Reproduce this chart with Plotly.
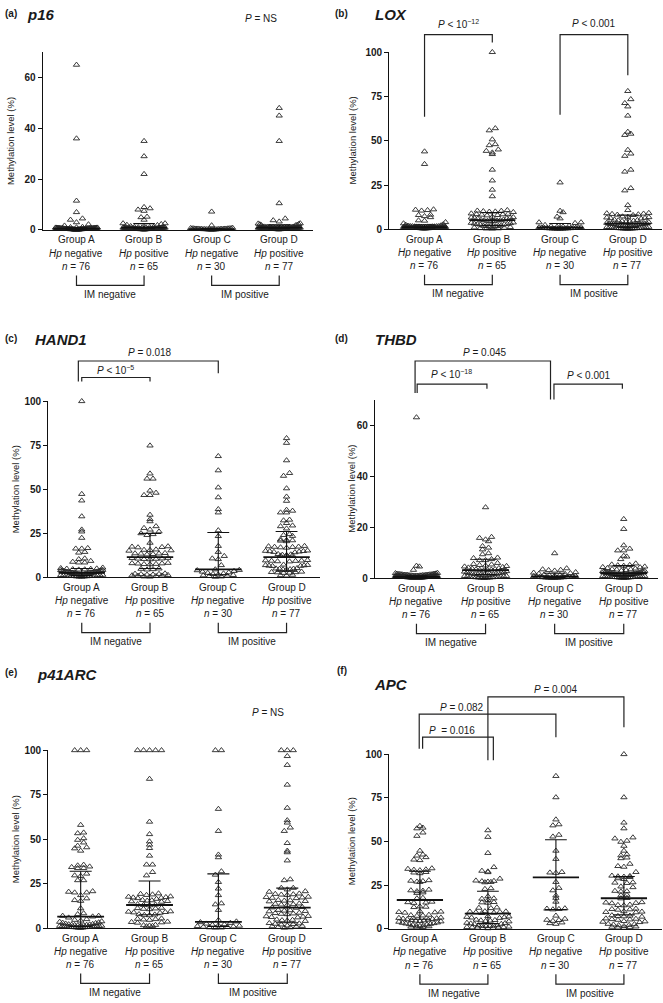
import numpy as np
import plotly.graph_objects as go

W, H = 663, 1003
FONT = "Liberation Sans, Arial, sans-serif"
INK = "#1a1a1a"

groups = ["Group A", "Group B", "Group C", "Group D"]
hp_labels = ["<i>Hp</i> negative", "<i>Hp</i> positive", "<i>Hp</i> negative", "<i>Hp</i> positive"]
n_labels = ["<i>n</i> = 76", "<i>n</i> = 65", "<i>n</i> = 30", "<i>n</i> = 77"]
im_labels = ["IM negative", "IM positive"]
y_title = "Methylation level (%)"

# ---------------- data (methylation level, %) ----------------
p16_A = [65, 36, 11.5, 7.0, 4.5, 4.0, 3.0, 2.2, 1.7,
         0.2, 0.5, 0.3, 0.8, 0.6, 0.4, 0.1, 0.7, 0.9, 0.5,
         0.3, 0.6, 0.2, 0.8, 0.4, 0.5, 1.0, 0.3, 0.7, 0.6,
         0.1, 0.4, 0.9, 0.5, 0.2, 0.8, 0.6, 0.3, 0.5, 0.7,
         0.4, 0.2, 0.6, 0.8, 0.3, 0.5, 0.1, 0.9, 0.4, 0.6,
         0.7, 0.3, 0.5, 0.2, 0.8, 0.6, 0.4, 1.1, 0.5, 0.3,
         0.6, 0.2, 0.7, 0.4, 0.9, 0.5, 0.3, 0.8, 0.6, 0.4,
         0.2, 0.5, 0.7, 1.2, 0.3, 0.6, 0.4]
p16_B = [35, 29, 22, 9.0, 8.5, 8.0, 7.5, 5.2, 5.0, 4.0, 2.6, 2.6, 2.3, 2.0, 1.9, 1.5,
         0.3, 0.6, 0.9, 0.4, 0.7, 1.0, 0.5, 0.8, 0.2, 0.6,
         1.1, 0.4, 0.7, 0.3, 0.9, 0.5, 0.8, 0.6, 1.2, 0.4,
         0.7, 0.2, 0.5, 1.0, 0.6, 0.3, 0.9, 0.8, 0.4, 0.7,
         0.5, 1.1, 0.6, 0.3, 0.8, 0.4, 0.9, 0.5, 0.7, 0.2,
         0.6, 1.0, 0.4, 0.8, 0.5, 0.3, 0.7, 0.6, 0.9]
p16_C = [7.2, 1.8, 0.6, 0.3, 0.5, 0.2, 0.4, 0.7, 0.3, 0.5, 0.1, 0.4,
         0.6, 0.2, 0.5, 0.3, 0.8, 0.4, 0.2, 0.5, 0.3, 0.6,
         0.4, 0.1, 0.5, 0.3, 0.7, 0.2, 0.4, 0.6]
p16_D = [48, 45, 35, 10.5, 4.5, 3.8, 3.3, 2.6, 2.5, 2.3, 2.2, 2.0, 1.9, 1.8,
         0.5, 0.8, 1.2, 0.4, 0.9, 1.1, 0.6, 1.3, 0.7, 1.0,
         0.3, 0.8, 1.2, 0.5, 0.9, 0.6, 1.1, 0.4, 1.0, 0.7,
         1.3, 0.5, 0.8, 0.2, 1.1, 0.6, 0.9, 1.2, 0.4, 0.7,
         1.0, 0.3, 0.8, 1.1, 0.5, 0.9, 0.6, 1.2, 0.4, 0.7,
         1.0, 0.8, 0.5, 1.3, 0.6, 0.9, 0.3, 1.1, 0.7, 1.0,
         0.4, 0.8, 1.2, 0.6, 0.9, 0.5, 1.1, 0.7, 1.0, 0.3,
         0.8, 1.2, 0.6]

lox_A = [43.9, 36.8, 11.2, 11.0, 10.8, 10.5, 8.2, 8.0, 7.4, 6.8, 5.0, 4.8, 4.0, 3.3, 2.8, 2.5, 2.2, 2.0,
         0.5, 1.2, 0.8, 1.5, 0.6, 1.0, 1.8, 0.7, 1.3, 0.9,
         1.6, 0.5, 1.1, 0.8, 1.4, 0.6, 1.2, 1.7, 0.9, 1.0,
         0.7, 1.5, 0.5, 1.3, 0.8, 1.1, 1.6, 0.6, 1.2, 0.9,
         1.4, 0.7, 1.0, 1.8, 0.5, 1.3, 0.8, 1.1, 1.5, 0.6,
         1.2, 0.9, 1.6, 0.7, 1.0, 1.4, 0.5, 1.3, 0.8, 1.1,
         1.7, 0.6, 1.2, 0.9, 1.5, 0.7, 1.0, 1.3]
lox_B = [100, 57, 55.8, 50.7, 48, 47.4, 45, 44.2, 43.3, 42.4, 33.6, 27.5, 22.3, 18.6,
         10.8, 10.5, 10.4, 10.2, 10.0, 9.9, 9.7, 8.9, 8.7, 8.5, 8.4, 8.2, 8.0, 7.8,
         7.0, 6.8, 6.6, 6.5, 6.3, 6.2, 6.0, 5.5, 5.3, 5.1, 5.0, 4.9, 4.7, 4.5, 4.3,
         3.8, 3.6, 3.4, 3.2, 3.0, 2.9, 2.8, 2.6, 2.2, 2.0, 1.9, 1.8, 1.6, 1.5, 1.4, 1.2,
         1.0, 0.8, 0.6, 0.5, 0.4, 0.3]
lox_C = [26.4, 10.4, 9.6, 7.1, 6.1, 3.9, 3.9, 3.5, 2.4, 2.0, 1.8, 1.5, 1.4, 1.2, 1.1,
         1.0, 0.9, 0.8, 0.8, 0.7, 0.6, 0.6, 0.5, 0.5, 0.4, 0.4, 0.3, 0.3, 0.2, 0.2]
lox_D = [78, 73.4, 71.2, 69.3, 64.1, 55, 53.9, 53.2, 44.8, 42.7, 41.4, 33.6, 32.5, 23.2, 21.9, 13.6,
         10.8, 9.2, 9.0, 8.8, 8.6, 8.4, 8.2, 8.0, 7.2, 7.0, 6.8, 6.6, 6.4, 6.2, 6.0,
         5.4, 5.2, 5.0, 4.8, 4.6, 4.4, 4.2, 4.0, 3.6, 3.4, 3.3, 3.2, 3.1, 3.0, 2.9, 2.8, 2.7, 2.6,
         2.2, 2.1, 2.0, 1.9, 1.8, 1.7, 1.6, 1.5, 1.4, 1.3, 1.2, 1.1,
         1.0, 0.9, 0.9, 0.8, 0.8, 0.7, 0.7, 0.6, 0.6, 0.5, 0.5, 0.4, 0.4, 0.3, 0.3, 0.2]

hand1_A = [100, 47.3, 43.6, 34.6, 27.1, 26, 22.4, 16.6, 16.3, 16.3, 14.4, 14, 10.7, 10.3, 9.3, 8.8, 8.4, 8.4,
           0.5, 1.2, 2.0, 3.1, 4.2, 0.8, 1.6, 2.5, 3.6, 4.8,
           0.4, 1.0, 1.9, 2.8, 3.9, 5.2, 0.7, 1.4, 2.2, 3.3,
           4.5, 0.6, 1.1, 1.8, 2.6, 3.5, 4.4, 5.5, 0.9, 1.5,
           2.3, 3.0, 4.0, 0.3, 1.3, 2.1, 2.9, 3.8, 4.9, 0.8,
           1.7, 2.4, 3.2, 4.1, 5.0, 0.5, 1.2, 2.0, 2.7, 3.4,
           4.6, 1.0, 1.6, 2.2, 3.1, 0.7, 1.9, 2.5]
hand1_B = [74.8, 58.9, 56, 56, 49.2, 48, 46.7, 46.7, 35.5, 33, 31.8, 29, 28, 27.1, 26, 25, 24.5, 24,
           19.6, 17.6, 17.4, 17.2, 17.0, 15.8, 15.6, 15.5, 15.3, 15.1,
           13.8, 13.6, 13.5, 13.4, 13.2, 13.0, 11.0, 10.9, 10.7, 10.6, 10.5, 10.4, 10.2,
           8.2, 8.0, 7.9, 7.8, 7.6, 7.5, 7.4, 5.0, 4.8, 4.6, 4.4,
           2.2, 2.0, 1.9, 1.8, 1.6, 1.5, 1.3, 1.1, 1.0, 0.9, 0.7, 0.5, 0.4]
hand1_C = [68.8, 60.7, 51, 45.4, 38.7, 36.8, 26.7, 23.4, 17.8, 14.4, 12.1, 10.7, 10.3, 6.9,
           4.5, 4.2, 4.0, 3.6, 3.2, 2.8, 2.5, 2.2, 1.9, 1.6, 1.3, 1.1, 0.9, 0.7, 0.5, 0.3]
hand1_D = [79, 76.3, 66.4, 59.2, 57.6, 50.5, 45.8, 43.4, 38.3, 37.8, 36.8, 36.8, 32.7, 32.3, 30.8, 29.4, 29, 27.7,
           24.5, 24, 23.5, 21.5, 21.2, 21, 20.8, 20.5,
           17.8, 17.6, 17.4, 17.3, 17.2, 17.0, 16.8, 15.2, 15.0, 14.9, 14.8, 14.6, 14.4, 14.2,
           13.2, 13.0, 12.8, 12.7, 12.5, 12.3, 12.1, 9.8, 9.6, 9.5, 9.4, 9.3, 9.1, 9.0,
           7.2, 7.0, 6.9, 6.8, 6.6, 6.5, 6.4, 5.2, 5.0, 4.9, 4.8, 4.6, 4.5, 4.4,
           3.2, 3.0, 2.9, 2.8, 2.6, 2.5, 1.4, 1.2, 1.0]

thbd_A = [63, 4.9, 4.6, 3.3,
          0.2, 0.5, 0.9, 1.3, 1.7, 0.3, 0.6, 1.0, 1.4, 1.8,
          0.1, 0.4, 0.8, 1.2, 1.6, 2.0, 0.3, 0.7, 1.1, 1.5,
          0.2, 0.6, 0.9, 1.3, 1.9, 0.4, 0.8, 1.0, 1.4, 0.5,
          0.2, 0.7, 1.1, 1.6, 0.3, 0.6, 0.9, 1.2, 1.7, 0.4,
          0.8, 1.0, 1.5, 0.1, 0.5, 0.9, 1.3, 1.8, 0.3, 0.6,
          1.1, 1.4, 0.2, 0.7, 1.0, 1.6, 0.4, 0.8, 1.2, 2.1,
          0.5, 0.9, 1.3, 0.3, 0.7, 1.1, 1.5, 0.2, 0.6, 1.0,
          0.4, 0.8]
thbd_B = [27.8, 16.2, 15.8, 15.2, 14.5, 12.6, 12.0, 11.3, 9.8, 9.4, 8.1, 7.9, 7.5, 7.1, 7.1,
          6.0, 5.6, 5.4, 5.2, 5.0, 4.8, 4.6, 4.4, 4.2, 4.0,
          3.8, 3.6, 3.5, 3.4, 3.3, 3.2, 3.0, 2.8, 2.6, 2.5,
          2.4, 2.2, 2.1, 2.0, 1.9, 1.8, 1.7, 1.6, 1.5, 1.4,
          1.3, 1.2, 1.1, 1.0, 0.9, 0.9, 0.8, 0.8, 0.7, 0.6,
          0.6, 0.5, 0.5, 0.4, 0.4, 0.3, 0.3, 0.2, 0.2, 0.1]
thbd_C = [9.8, 3.9, 3.5, 3.3, 3.2, 3.0, 2.4, 2.2, 2.0, 1.8, 1.7, 1.5, 1.3, 1.2, 1.0,
          0.9, 0.8, 0.8, 0.7, 0.6, 0.5, 0.5, 0.4, 0.4, 0.3, 0.3, 0.2, 0.2, 0.1, 0.1]
thbd_D = [23.2, 19.3, 12.9, 11.6, 10.9, 10.9, 8.8, 8.5, 7.5,
          5.8, 5.4, 5.2, 4.9, 4.6, 4.3, 4.0, 3.8, 3.6, 3.4,
          3.2, 3.0, 2.9, 2.8, 2.7, 2.6, 2.5, 2.4, 2.3, 2.2,
          2.1, 2.0, 2.0, 1.9, 1.9, 1.8, 1.8, 1.7, 1.7, 1.6,
          1.6, 1.5, 1.5, 1.4, 1.4, 1.3, 1.3, 1.2, 1.2, 1.1,
          1.1, 1.0, 1.0, 0.9, 0.9, 0.8, 0.8, 0.7, 0.7, 0.6,
          0.6, 0.5, 0.5, 0.4, 0.4, 0.3, 0.3, 0.2, 0.2, 0.1,
          5.1, 4.4, 3.5, 2.7, 1.9, 1.2, 0.8, 0.5]

p41_A = [100, 100, 100, 58, 53.7, 53.3, 50.5, 49.6, 48.1, 46.3, 45.4, 44.8, 43.5,
         35.6, 35.2, 34.6, 34.3, 33.7, 33.7, 30.6, 29.6, 29.3, 26.9, 26.9, 20.7, 20.4, 20.0, 20.0,
         18.5, 16.7, 15.7, 15.3, 11.1, 8.3, 7.8, 6.9, 6.9, 6.5, 5.9,
         5.0, 4.6, 4.2, 3.8, 3.5, 3.2, 3.0, 2.8, 2.5, 2.3, 2.1, 2.0, 1.9, 1.8, 1.7,
         1.6, 1.5, 1.4, 1.3, 1.2, 1.1, 1.0, 1.0, 0.9, 0.9, 0.8, 0.8, 0.7, 0.7, 0.6,
         0.6, 0.5, 0.5, 0.4, 0.3, 0.2, 0.1]
p41_B = [100, 100, 100, 100, 100, 83.9, 59.8, 52.8, 48.7, 46.9, 45, 40.7, 35.7, 35.7, 31.5, 29.6,
         19.5, 19.2, 18.9, 18.6, 17.8, 17.6, 17.4, 17.2, 17.0, 16.8, 16.4,
         15.8, 15.6, 15.4, 15.2, 15.0, 14.8, 13.4, 13.2, 13.0, 12.8,
         11.4, 11.2, 11.0, 10.8, 10.6, 9.4, 9.2, 9.0, 8.8, 8.6, 7.8, 7.6, 7.4, 7.2,
         5.4, 5.2, 5.0, 4.8, 4.6, 3.6, 3.4, 3.2, 3.0, 1.8, 1.6, 1.4, 1.2, 1.0]
p41_C = [100, 100, 67, 54.6, 41.3, 39.8, 31.9, 30, 25.9, 22.2, 18.5, 13.9, 13.3, 10.2,
         4.5, 3.7, 3.3, 2.9, 2.5, 2.1, 1.8, 1.5, 1.3, 1.1, 0.9, 0.7, 0.6, 0.4, 0.3, 0.2]
p41_D = [100, 100, 100, 96.7, 91.7, 80.6, 67.6, 60.6, 59.3, 56.5, 54.6, 47.8, 43.5, 42.6, 38,
         27.4, 26.9, 22.6, 22.6, 21.7, 20.7, 20.4,
         19.4, 19.2, 19.0, 18.8, 18.6, 17.6, 17.4, 17.2, 17.0, 16.8,
         15.8, 15.6, 15.4, 15.2, 15.0, 13.8, 13.6, 13.4, 13.2, 13.0,
         11.8, 11.6, 11.4, 10.2, 10.0, 9.8, 9.6, 9.4, 8.6, 8.4, 8.2, 8.0, 7.8,
         6.8, 6.6, 6.4, 6.2, 6.0, 4.8, 4.6, 4.4, 4.2, 4.0,
         2.8, 2.6, 2.4, 2.2, 2.0, 1.4, 1.2, 1.0, 0.8, 0.6, 0.4, 0.2]

apc_A = [58.9, 57.9, 57.5, 55.1, 53.2, 44.7, 42.5, 41.9, 41.0, 39.6,
         39.3, 34.6, 34.3, 34.0, 33.8, 33.5, 32.5, 32.2, 31.8, 27.8,
         27.5, 27.3, 27.0, 26.8, 22.4, 22.0, 21.8, 21.5, 20.8, 20.5,
         17.7, 17.4, 15.5, 15.2, 15.0, 14.8, 12.8, 12.6, 12.4, 10.0,
         9.8, 9.6, 9.4, 9.2, 8.0, 7.8, 7.6, 7.4, 6.4, 6.2,
         6.0, 5.8, 5.6, 5.4, 5.2, 5.0, 4.8, 4.6, 4.4, 4.2,
         4.0, 3.6, 3.4, 3.2, 3.0, 2.8, 2.6, 2.4, 2.2, 2.0,
         1.8, 1.6, 1.4, 1.2, 1.0, 0.8]
apc_B = [56.4, 52.6, 43.4, 35.3, 33.2, 32.8, 32.4, 28.7, 27.6, 27.4,
         27.2, 27.0, 26.8, 26.6, 23.2, 22.8, 18.6, 17.4, 17.2, 16.4,
         15.3, 15.1, 14.9, 12.2, 12.0, 11.8, 10.0, 9.9, 9.8, 9.6,
         9.4, 9.2, 9.0, 7.2, 7.0, 6.8, 6.6, 6.4, 6.2, 5.2,
         5.0, 4.8, 4.6, 4.4, 4.2, 3.4, 3.2, 3.0, 2.8, 2.6,
         2.0, 1.9, 1.8, 1.7, 1.6, 1.5, 1.2, 1.0, 0.9, 0.8,
         0.7, 0.6, 0.5, 0.4, 0.3]
apc_C = [87.5, 75.3, 62.6, 59.8, 59.2, 53.8, 52.8, 44.7, 40.0, 32.5,
         32.2, 32.0, 26.8, 23.4, 22.0, 19.0, 17.7, 15.5, 11.7, 11.5,
         11.3, 11.1, 7.5, 5.7, 5.1, 5.0, 4.5, 3.6, 3.2, 2.8]
apc_D = [100, 75.3, 60.8, 57.5, 52.3, 51.7, 50.4, 49.8, 47.5, 44.7,
         42.6, 42.0, 40.8, 40.4, 37.2, 35.9, 35.5, 32.5, 30.4, 30.2,
         30.0, 29.8, 29.6, 28.9, 28.5, 26.6, 26.4, 26.2, 24.2, 23.8,
         21.7, 21.5, 21.3, 19.4, 19.2, 17.6, 17.4, 15.2, 15.0, 14.8,
         14.6, 13.8, 13.6, 13.4, 11.5, 11.3, 11.1, 10.9, 10.0, 9.8,
         9.6, 9.4, 7.7, 7.5, 7.3, 7.1, 6.9, 5.9, 5.7, 5.5,
         5.3, 5.1, 4.4, 4.2, 4.0, 3.8, 2.8, 2.6, 2.4, 2.2,
         2.0, 1.5, 1.3, 1.1, 0.9, 0.7, 0.5]

# medians and interquartile ranges
p16_med, p16_q1, p16_q3 = [0.5, 0.9, 0.3, 0.9], [0.2, 0.5, 0.2, 0.5], [0.9, 2.5, 0.6, 2.0]
lox_med, lox_q1, lox_q3 = [1.2, 5.2, 1.0, 3.2], [0.7, 2.2, 0.5, 1.2], [2.5, 9.5, 3.3, 8.0]
hand1_med, hand1_q1, hand1_q3 = [2.5, 11.5, 4.5, 11.5], [1.0, 5.0, 1.5, 3.5], [5.0, 25.0, 25.5, 26.0]
thbd_med, thbd_q1, thbd_q3 = [0.6, 3.2, 0.8, 2.0], [0.3, 1.5, 0.3, 1.0], [1.0, 7.5, 2.0, 5.0]
p41_med, p41_q1, p41_q3 = [6.5, 13.0, 3.5, 11.5], [1.0, 7.5, 1.0, 3.0], [32.0, 26.5, 30.5, 22.5]
apc_med, apc_q1, apc_q3 = [16.5, 8.7, 29.5, 17.5], [5.5, 3.0, 11.0, 8.0], [33.0, 21.5, 51.0, 30.0]

# ---------------- layout of the six panels (pixel geometry) ----------------
panels = [
    dict(letter="(a)", gene="p16", vals=[p16_A, p16_B, p16_C, p16_D], med=p16_med, q1=p16_q1, q3=p16_q3,
         px=(42.7, 313), py=(46.7, 226.7), xr=(0.5, 4.5), yr=(0, 70), ticks=[0, 20, 40, 60],
         let_xy=(3, 8), gene_xy=(25, 8.5), ytitle_x=10),
    dict(letter="(b)", gene="LOX", vals=[lox_A, lox_B, lox_C, lox_D], med=lox_med, q1=lox_q1, q3=lox_q3,
         px=(389.3, 661.7), py=(46.7, 226), xr=(0.48, 4.5), yr=(0, 100), ticks=[0, 25, 50, 75, 100],
         let_xy=(333, 8), gene_xy=(373, 8.5), ytitle_x=352.7),
    dict(letter="(c)", gene="HAND1", vals=[hand1_A, hand1_B, hand1_C, hand1_D], med=hand1_med, q1=hand1_q1, q3=hand1_q3,
         px=(48.3, 320), py=(400, 578.3), xr=(0.51, 4.49), yr=(0, 100), ticks=[0, 25, 50, 75, 100],
         let_xy=(3, 337), gene_xy=(33, 338), ytitle_x=15),
    dict(letter="(d)", gene="THBD", vals=[thbd_A, thbd_B, thbd_C, thbd_D], med=thbd_med, q1=thbd_q1, q3=thbd_q3,
         px=(375, 658.3), py=(398.3, 579.3), xr=(0.4, 4.5), yr=(0, 70), ticks=[0, 20, 40, 60],
         let_xy=(333, 337), gene_xy=(373, 338), ytitle_x=351.7),
    dict(letter="(e)", gene="p41ARC", vals=[p41_A, p41_B, p41_C, p41_D], med=p41_med, q1=p41_q1, q3=p41_q3,
         px=(48.3, 321.7), py=(753.3, 933.3), xr=(0.53, 4.5), yr=(0, 100), ticks=[0, 25, 50, 75, 100],
         let_xy=(3, 675), gene_xy=(35, 676.5), ytitle_x=15),
    dict(letter="(f)", gene="APC", vals=[apc_A, apc_B, apc_C, apc_D], med=apc_med, q1=apc_q1, q3=apc_q3,
         px=(389.3, 662), py=(757.3, 934), xr=(0.55, 4.56), yr=(0, 100), ticks=[0, 25, 50, 75, 100],
         let_xy=(335, 673), gene_xy=(372, 687), ytitle_x=351.7),
]

# significance brackets: (panel, x_left, x_right, top_px, left_bottom_px, right_bottom_px, label, label_x, label_y_px)
sig = [
    (1, 1, 2, 29, 112, 37, "<i>P</i> < 10<sup>−12</sup>", 1.5, 18),
    (1, 3, 4, 29, 110, 70, "<i>P</i> < 0.001", 3.5, 18),
    (2, 0.95, 3, 359.3, 380, 371.7, "<i>P</i> = 0.018", 2.0, 350.5),
    (2, 1, 2, 376, 380, 380, "<i>P</i> < 10<sup>−5</sup>", 1.5, 368.5),
    (3, 0.98, 2.94, 359.3, 391.7, 398.3, "<i>P</i> = 0.045", 1.99, 350.5),
    (3, 1.01, 2.02, 382.7, 391.7, 387.3, "<i>P</i> < 10<sup>−18</sup>", 1.51, 372),
    (3, 2.99, 3.98, 382.7, 398.3, 387.3, "<i>P</i> < 0.001", 3.49, 374),
    (5, 2.0, 4.0, 699.3, 763.3, 730, "<i>P</i> = 0.004", 3.0, 691.5),
    (5, 0.99, 3.0, 716.7, 751.7, 740, "<i>P</i> = 0.082", 1.62, 709.5),
    (5, 1.04, 2.08, 740, 751.7, 763.3, "<i>P</i>  = 0.016", 1.47, 733),
]
ns_labels = [(0, 261, 12.5), (4, 268, 715)]


def py2paper(y):
    return 1 - y / H


def swarm(vals, center, ppy, ppx, msize=5.0, spacing=6.0, maxhalf=21.0):
    v = np.asarray(vals, float)
    h = msize / ppy
    bins = np.floor(v / h + 0.5).astype(int)
    xs = np.empty_like(v)
    for b in np.unique(bins):
        idx = np.where(bins == b)[0]
        idx = idx[np.argsort(v[idx], kind="stable")]
        k = len(idx)
        step = spacing
        if k > 1 and (k - 1) * step / 2 > maxhalf:
            step = 2 * maxhalf / (k - 1)
        offs = (np.arange(k) - (k - 1) / 2) * step
        order = np.argsort(np.abs(offs), kind="stable")
        xs[idx] = center + offs[order] / ppx
    return v, xs


fig = go.Figure()
annotations = []
shapes = []

for i, p in enumerate(panels):
    ax = "" if i == 0 else str(i + 1)
    xa, ya = "x" + ax, "y" + ax
    x0, x1 = p["px"]
    yt, yb = p["py"]
    ppx = (x1 - x0) / (p["xr"][1] - p["xr"][0])
    ppy = (yb - yt) / (p["yr"][1] - p["yr"][0])

    for g, vals in enumerate(p["vals"]):
        yv, xv = swarm(vals, g + 1, ppy, ppx)
        fig.add_trace(go.Scatter(
            x=xv, y=yv, mode="markers", xaxis=xa, yaxis=ya, showlegend=False,
            cliponaxis=False, hoverinfo="skip",
            marker=dict(symbol="triangle-up-open", size=5.5, color="#262626",
                        line=dict(width=0.9, color="#262626"))))

    mx, my, ex, ey = [], [], [], []
    for g in range(4):
        c = g + 1
        mx += [c - 0.34, c + 0.34, None]
        my += [p["med"][g], p["med"][g], None]
        ex += [c, c, None, c - 0.16, c + 0.16, None, c - 0.16, c + 0.16, None]
        ey += [p["q1"][g], p["q3"][g], None, p["q1"][g], p["q1"][g], None, p["q3"][g], p["q3"][g], None]
    fig.add_trace(go.Scatter(x=ex, y=ey, mode="lines", xaxis=xa, yaxis=ya, showlegend=False,
                             hoverinfo="skip", line=dict(color="#111", width=1.1)))
    fig.add_trace(go.Scatter(x=mx, y=my, mode="lines", xaxis=xa, yaxis=ya, showlegend=False,
                             hoverinfo="skip", line=dict(color="#111", width=1.8)))

    fig.update_layout(**{
        "xaxis" + ax: dict(domain=[x0 / W, x1 / W], range=list(p["xr"]), anchor=ya,
                           showline=True, linecolor="#111", linewidth=1.4, ticks="",
                           showticklabels=False, showgrid=False, zeroline=False, fixedrange=True),
        "yaxis" + ax: dict(domain=[py2paper(yb), py2paper(yt)], range=list(p["yr"]), anchor=xa,
                           showline=True, linecolor="#111", linewidth=1.4, ticks="outside",
                           ticklen=4, tickwidth=1.4, tickcolor="#111",
                           tickvals=p["ticks"], ticktext=["<b>%d</b>" % t for t in p["ticks"]],
                           tickfont=dict(size=10, color=INK, family=FONT),
                           showgrid=False, zeroline=False, fixedrange=True),
    })

    annotations.append(dict(text="<b>%s</b>" % p["letter"], x=p["let_xy"][0] / W, y=py2paper(p["let_xy"][1]),
                            xref="paper", yref="paper", xanchor="left", yanchor="middle", showarrow=False,
                            font=dict(size=10, color=INK, family=FONT)))
    annotations.append(dict(text="<b><i>%s</i></b>" % p["gene"], x=p["gene_xy"][0] / W, y=py2paper(p["gene_xy"][1]),
                            xref="paper", yref="paper", xanchor="left", yanchor="middle", showarrow=False,
                            font=dict(size=15, color=INK, family=FONT)))
    annotations.append(dict(text=y_title, x=p["ytitle_x"] / W, y=py2paper((yt + yb) / 2),
                            xref="paper", yref="paper", xanchor="center", yanchor="middle", showarrow=False,
                            textangle=-90, font=dict(size=9.5, color=INK, family=FONT)))
    for g in range(4):
        for txt, off in ((groups[g], 10), (hp_labels[g], 23.3), (n_labels[g], 37)):
            annotations.append(dict(text=txt, x=g + 1, y=py2paper(yb + off), xref=xa, yref="paper",
                                    xanchor="center", yanchor="middle", showarrow=False,
                                    font=dict(size=10, color=INK, family=FONT)))
    for k in range(2):
        a, b = 2 * k + 1, 2 * k + 2
        shapes.append(dict(type="path", xref=xa, yref="paper",
                           path="M %g,%g L %g,%g L %g,%g L %g,%g" % (
                               a, py2paper(yb + 46), a, py2paper(yb + 56),
                               b, py2paper(yb + 56), b, py2paper(yb + 46)),
                           line=dict(color="#222", width=1.2)))
        annotations.append(dict(text=im_labels[k], x=(a + b) / 2, y=py2paper(yb + 65), xref=xa, yref="paper",
                                xanchor="center", yanchor="middle", showarrow=False,
                                font=dict(size=10, color=INK, family=FONT)))

for (pi, xl, xr, top, lb, rb, lab, lx, ly) in sig:
    ax = "" if pi == 0 else str(pi + 1)
    xa = "x" + ax
    shapes.append(dict(type="path", xref=xa, yref="paper",
                       path="M %g,%g L %g,%g L %g,%g L %g,%g" % (
                           xl, py2paper(lb), xl, py2paper(top), xr, py2paper(top), xr, py2paper(rb)),
                       line=dict(color="#222", width=1.2)))
    annotations.append(dict(text=lab, x=lx, y=py2paper(ly), xref=xa, yref="paper",
                            xanchor="center", yanchor="middle", showarrow=False,
                            font=dict(size=10, color=INK, family=FONT)))

for (pi, xpx, ypx) in ns_labels:
    annotations.append(dict(text="<i>P</i> = NS", x=xpx / W, y=py2paper(ypx), xref="paper", yref="paper",
                            xanchor="center", yanchor="middle", showarrow=False,
                            font=dict(size=10, color=INK, family=FONT)))

fig.update_layout(width=W, height=H, margin=dict(l=0, r=0, t=0, b=0),
                  paper_bgcolor="white", plot_bgcolor="white",
                  annotations=annotations, shapes=shapes, font=dict(family=FONT, color=INK))

fig.write_html("out.html", config={"displayModeBar": False},
               post_script="document.body.style.margin='0';document.body.style.overflow='hidden';")
